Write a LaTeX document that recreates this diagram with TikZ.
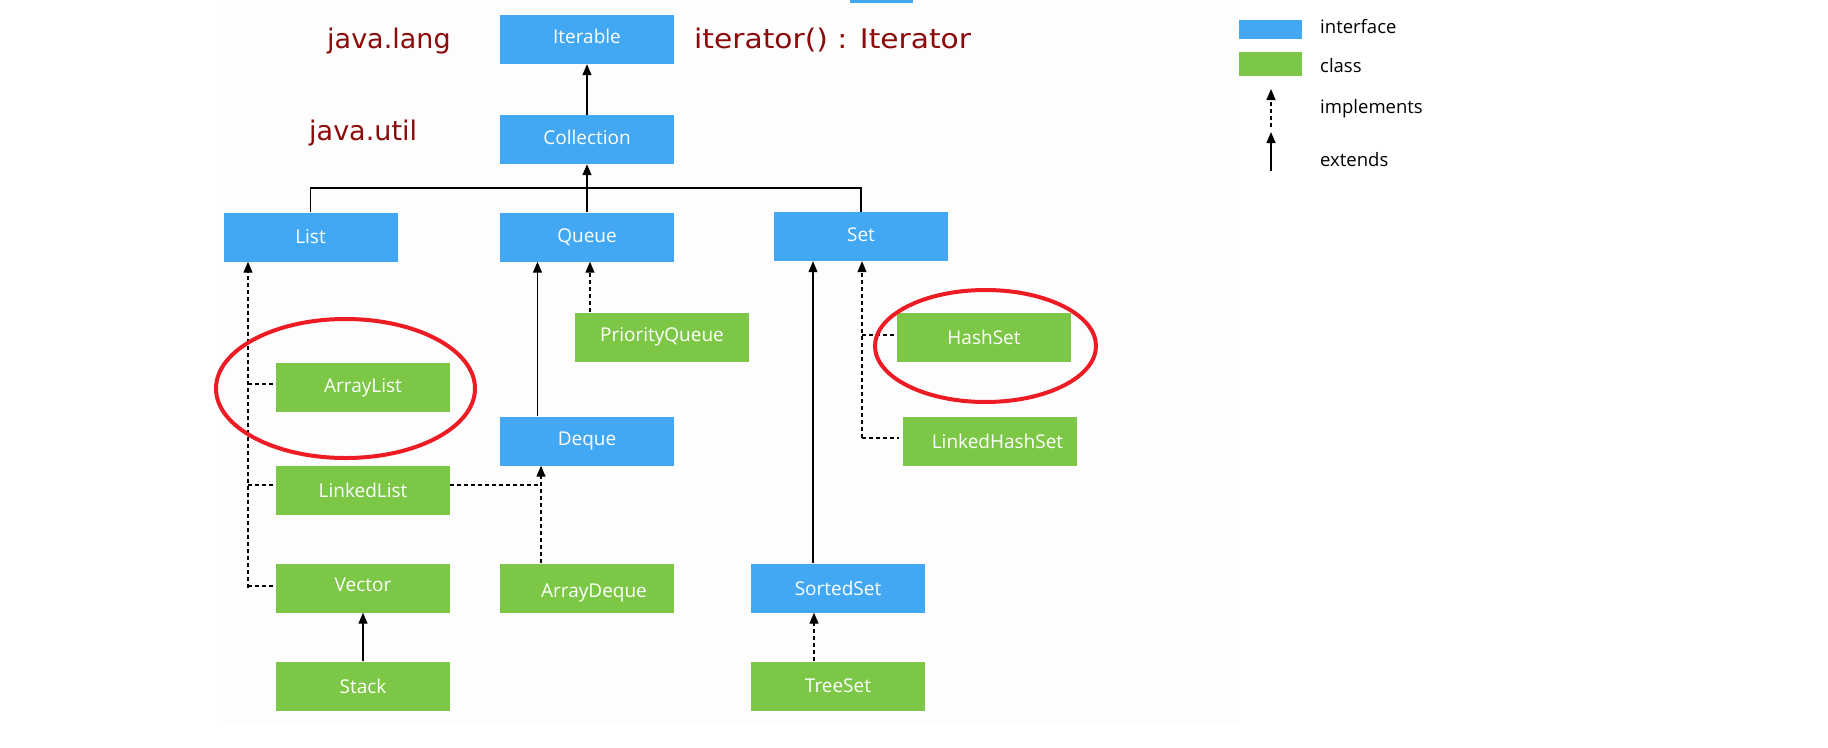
\documentclass[tikz,border=0pt]{standalone}
\usepackage{fontspec}
\usepackage{graphicx}
\setmainfont{Open Sans}
\newfontfamily\comicfont{DejaVu Sans}
\usetikzlibrary{arrows.meta}
\definecolor{ifblue}{HTML}{42A8F3}
\definecolor{clgreen}{HTML}{7CC846}
\definecolor{pkgred}{HTML}{8B0A0A}
\definecolor{ovalred}{HTML}{ED1C24}
\definecolor{faint}{HTML}{FDFDFD}
\tikzset{
  box/.style={minimum width=174pt, minimum height=49pt, inner sep=0pt, text=white,
    font=\fontsize{19}{21}\selectfont},
  iface/.style={box, fill=ifblue},
  cls/.style={box, fill=clgreen},
  ext/.style={line width=1.3pt, -{Triangle[width=9pt,length=11pt]}},
  impl/.style={line width=1.3pt, dash pattern=on 4pt off 3pt, -{Triangle[width=9pt,length=11pt]}},
  impline/.style={line width=1.3pt, dash pattern=on 4pt off 3pt},
  plain/.style={line width=1.3pt},
  pkg/.style={text=pkgred, font=\comicfont\fontsize{27}{30}\selectfont, inner sep=0pt},
  legtext/.style={font=\fontsize{18.5}{20}\selectfont, inner sep=0pt, anchor=base west},
  oval/.style={draw=ovalred, line width=4pt}
}
\begin{document}
\begin{tikzpicture}[x=1pt,y=-1pt]
\useasboundingbox (0,0) rectangle (1828,747);
\fill[white] (0,0) rectangle (1828,747);
\fill[faint] (218,0) rectangle (1240,723);
% cut-off strip at top
\fill[ifblue] (850,0) rectangle (913,3);

% package labels
\node[pkg, anchor=base west] (jlang) at (327,48) {java.lang};
\node[pkg, anchor=base west] (jutil) at (309,140) {java.util};
\node[pkg, anchor=base west] (iter) at (694,48) {\scalebox{1.1}[1.0]{iterator() : Iterator}};

% boxes
\node[iface] (Iterable) at (587,39.5) {\raisebox{3pt}[\height][\depth]{Iterable}};
\node[iface] (Collection) at (587,139.5) {\raisebox{2pt}[\height][\depth]{Collection}};
\node[iface] (List) at (310.5,237) {List};
\node[iface] (Queue) at (587,237) {Queue};
\node[iface] (Set) at (861,236.5) {\raisebox{2pt}[\height][\depth]{Set}};
\node[cls] (PriorityQueue) at (662,337) {PriorityQueue};
\node[cls] (ArrayList) at (363,387.5) {ArrayList};
\node[cls] (HashSet) at (984,337.5) {HashSet};
\node[cls] (LinkedHashSet) at (989.5,441) {\hspace*{16pt}LinkedHashSet};
\node[iface] (Deque) at (587,441) {Deque};
\node[cls] (LinkedList) at (363,490) {LinkedList};
\node[cls] (Vector) at (363,588) {\raisebox{3pt}[\height][\depth]{Vector}};
\node[cls] (ArrayDeque) at (587,588) {\hspace*{14pt}\raisebox{-5pt}[\height][\depth]{ArrayDeque}};
\node[iface] (SortedSet) at (838,588) {SortedSet};
\node[cls] (Stack) at (363,686) {Stack};
\node[cls] (TreeSet) at (838,686) {TreeSet};

% hub coordinates
\coordinate (hubL) at (List.north |- 0,188);
\coordinate (hubR) at (Set.north |- 0,188);

% connectors
\draw[ext] (Collection.north) -- (Iterable.south);
\draw[plain] (List.north) -- (hubL) -- (hubR) -- (Set.north);
\draw[ext] (Queue.north) -- (Collection.south);

% List implementations
\coordinate (lv) at (248,588);
\draw[impl] (lv) -- (lv |- List.south);
\draw[impline] (lv |- 0,384) -- ([xshift=-3pt]ArrayList.west |- 0,384);
\draw[impline] (lv |- 0,485) -- ([xshift=-3pt]LinkedList.west |- 0,485);
\draw[impline] (lv |- 0,586) -- ([xshift=-3pt]Vector.west |- 0,586);

% Queue
\draw[ext] (537.5,0 |- Deque.north) -- (537.5,0 |- Queue.south);
\draw[impl] (590,0 |- PriorityQueue.north) -- (590,0 |- Queue.south);

% Deque
\coordinate (dq) at (541,0);
\draw[impl] (dq |- ArrayDeque.north) -- (dq |- Deque.south);
\draw[impline] (LinkedList.east |- 0,485) -- (dq |- 0,485);

% Vector / Stack
\draw[ext] (Stack.north) -- (Vector.south);

% Set
\draw[ext] (813,0 |- SortedSet.north) -- (813,0 |- Set.south);
\coordinate (sv) at (862,438);
\draw[impl] (sv) -- (sv |- Set.south);
\draw[impline] (sv |- 0,335) -- ([xshift=-3pt]HashSet.west |- 0,335);
\draw[impline] (sv) -- ([xshift=-3pt]LinkedHashSet.west |- 0,438);
\draw[impl] (814,0 |- TreeSet.north) -- (814,0 |- SortedSet.south);

% red ovals
\draw[oval] (345.5,388.5) ellipse [x radius=129.5pt, y radius=69.5pt];
\draw[oval] (985.5,346) ellipse [x radius=110.5pt, y radius=56pt];

% legend
\node[fill=ifblue, minimum width=63pt, minimum height=19pt, inner sep=0pt] (legI) at (1270.5,29.5) {};
\node[fill=clgreen, minimum width=63pt, minimum height=24pt, inner sep=0pt] (legC) at (1270.5,64) {};
\node[legtext] (tI) at (1320,33) {interface};
\node[legtext] (tC) at (1320,72) {class};
\node[legtext] (tM) at (1320,113) {implements};
\node[legtext] (tE) at (1320,166) {extends};
\coordinate (imA) at (1271,127);
\coordinate (imB) at (1271,89);
\coordinate (exA) at (1271,171);
\coordinate (exB) at (1271,132);
\draw[impl] (imA) -- (imB);
\draw[ext] (exA) -- (exB);
\end{tikzpicture}
\end{document}
